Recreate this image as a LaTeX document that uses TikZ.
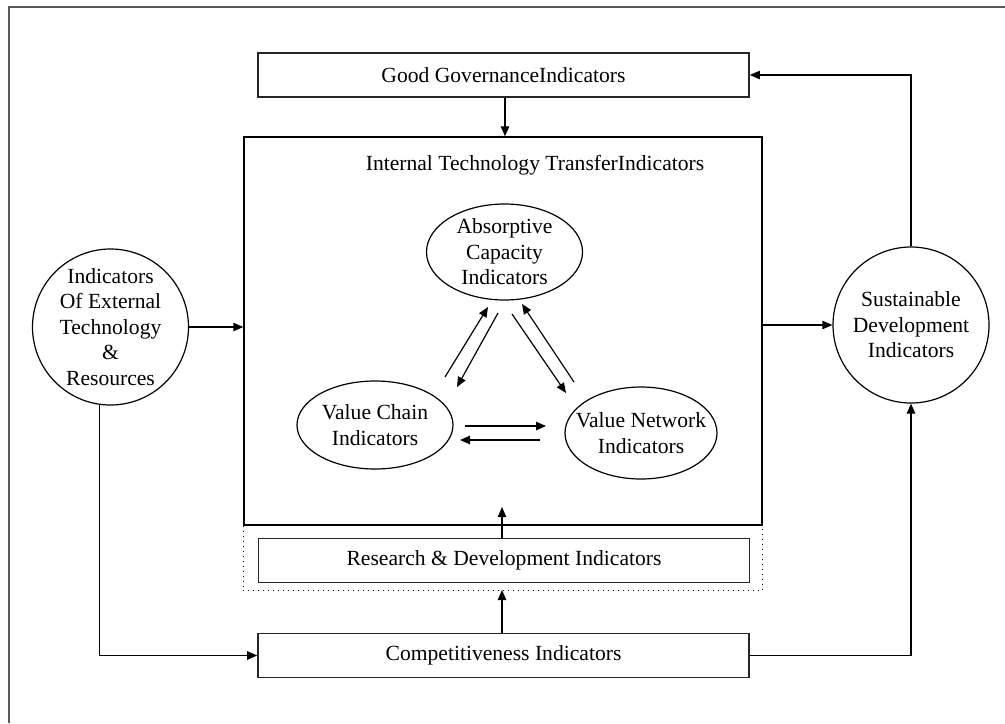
\documentclass[tikz,border=0pt]{standalone}
\usepackage{fontspec}
\setmainfont{Liberation Serif}
\usetikzlibrary{arrows.meta,shapes.geometric}
\begin{document}
\begin{tikzpicture}[x=0.5pt,y=-0.5pt,
  every node/.style={font=\fontsize{10.8}{12.8}\selectfont, align=center},
  box/.style={draw=black!85, line width=0.8pt, minimum width=245.5pt,
    minimum height=22pt, inner sep=0pt},
  bubble/.style={draw, line width=0.6pt, circle, minimum size=78pt, inner sep=0pt},
  oval/.style={draw, line width=0.6pt, ellipse, inner sep=0pt},
  conn/.style={line width=0.6pt, -{Triangle[length=5pt,width=4.2pt]}},
]
\useasboundingbox (0,0) rectangle (1005,723);

% page frame, running off the right and bottom edges
\draw[line width=1pt, draw=black!65] (1005,7) -- (8.5,7) -- (8.5,723);

% rectangular indicator groups
\node[box] (gg) at (503.5,75) {Good GovernanceIndicators};
\node[draw, line width=0.7pt, minimum width=259pt, minimum height=194pt,
      inner sep=0pt] (itt) at (503,331) {};
\node (ittlabel) at (535,165) {Internal Technology TransferIndicators};
\draw[dotted, line width=0.5pt] (itt.south west) -- ++(0,65) -| (itt.south east);
\node[box] (rd) at (504,560.5) {Research \& Development Indicators};
\node[box] (comp) at (503.5,655.5) {Competitiveness Indicators};

% outer circles
\node[bubble, label={[align=center]center:Indicators\\Of External\\Technology\\\&\\Resources}]
  (ext) at (110.5,327) {};
\node[bubble, label={[align=center]center:Sustainable\\Development\\Indicators}]
  (sd) at (911,325) {};

% inner ellipses
\node[oval, minimum width=78pt, minimum height=48pt,
      label={[align=center]center:Absorptive\\Capacity\\Indicators}] (ac) at (504.5,252) {};
\node[oval, minimum width=78pt, minimum height=44pt,
      label={[align=center]center:Value Chain\\Indicators}] (vc) at (375,425) {};
\node[oval, minimum width=76pt, minimum height=46pt,
      label={[align=center]center:Value Network\\Indicators}] (vn) at (641,433) {};

% free ends of the arrows between the ellipses
\coordinate (vcA1) at (445,377);  \coordinate (acA1) at (488,307);
\coordinate (acB1) at (498,313);  \coordinate (vcB1) at (457,387);
\coordinate (acA2) at (512,314);  \coordinate (vnA2) at (566,393);
\coordinate (vnB2) at (574,382);  \coordinate (acB2) at (522,304);
\coordinate (vcA3) at (465,426);  \coordinate (vnA3) at (546,426);
\coordinate (vnB3) at (540,440);  \coordinate (vcB3) at (460,440);

\draw[conn] (vcA1) -- (acA1);
\draw[conn] (acB1) -- (vcB1);
\draw[conn] (acA2) -- (vnA2);
\draw[conn] (vnB2) -- (acB2);
\draw[conn] (vcA3) -- (vnA3);
\draw[conn] (vnB3) -- (vcB3);

% connectors between the groups
\coordinate (rdTip) at (502,507);
\coordinate (dotBottom) at (502,590);
\draw[conn] (gg.south -| 505,0) -- (itt.north -| 505,0);
\draw[conn] (rd.north -| rdTip) -- (rdTip);
\draw[conn] (comp.north -| dotBottom) -- (dotBottom);
\draw[conn] (ext.east) -- (ext.east -| itt.west);
\draw[conn] (sd.west -| itt.east) -- (sd.west);
\draw[conn] (ext.262) |- (comp.west);
\draw[conn] (comp.east) -| (sd.south);
\draw[conn] (sd.north) |- (gg.east);
\end{tikzpicture}
\end{document}
